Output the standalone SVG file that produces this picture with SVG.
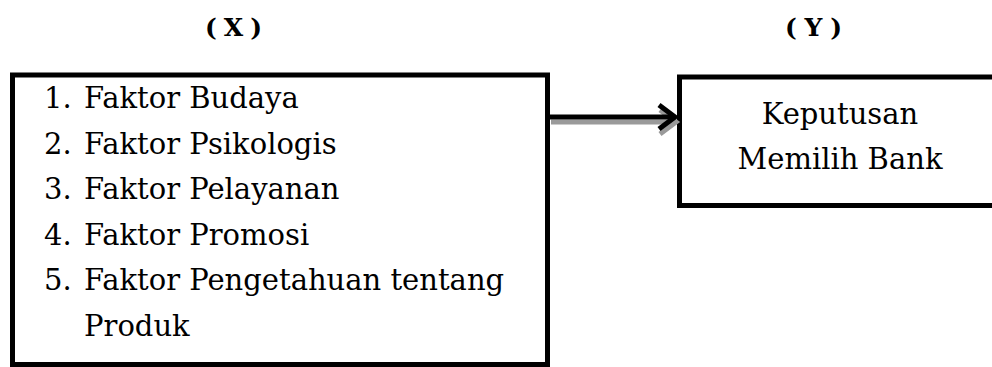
<svg xmlns="http://www.w3.org/2000/svg" width="992" height="367" viewBox="0 0 992 367">
<style>
.box{fill:#fff;stroke:#000;stroke-width:5}
.t{font-family:"DejaVu Serif","Liberation Serif",serif;font-size:29px;fill:#000}
.h{font-family:"DejaVu Serif","Liberation Serif",serif;font-size:25px;font-weight:bold;fill:#000}
.ln{fill:none;stroke-width:5;stroke-linecap:butt;stroke-linejoin:miter}
</style>
<rect width="992" height="367" fill="#fff"/>
<g id="labelX"><text class="h" x="205" y="36" textLength="57" lengthAdjust="spacing">( X )</text></g>
<g id="labelY"><text class="h" x="785" y="36" textLength="57" lengthAdjust="spacing">( Y )</text></g>
<g id="nodeX">
<rect class="box" x="12.5" y="75" width="535" height="289.5"/>
<text class="t" x="44" y="108">1.</text><text class="t" x="84" y="108">Faktor Budaya</text>
<text class="t" x="44" y="154">2.</text><text class="t" x="84" y="154">Faktor Psikologis</text>
<text class="t" x="44" y="199">3.</text><text class="t" x="84" y="199">Faktor Pelayanan</text>
<text class="t" x="44" y="245">4.</text><text class="t" x="84" y="245">Faktor Promosi</text>
<text class="t" x="44" y="290">5.</text><text class="t" x="84" y="290">Faktor Pengetahuan tentang</text>
<text class="t" x="84" y="336">Produk</text>
</g>
<g id="nodeY">
<rect class="box" x="679.5" y="77" width="320" height="128.5"/>
<text class="t" x="840" y="124" text-anchor="middle">Keputusan</text>
<text class="t" x="840" y="169" text-anchor="middle">Memilih Bank</text>
</g>
<g id="connectors">
<g transform="translate(1,5)">
<line x1="550" y1="117" x2="674" y2="117" class="ln" stroke="#9a9a9a"/>
<polyline points="659,105 675,117 659,129" class="ln" stroke="#9a9a9a"/>
</g>
<line x1="550" y1="117" x2="674" y2="117" class="ln" stroke="#000"/>
<polyline points="659,105 675,117 659,129" class="ln" stroke="#000"/>
</g>
</svg>
